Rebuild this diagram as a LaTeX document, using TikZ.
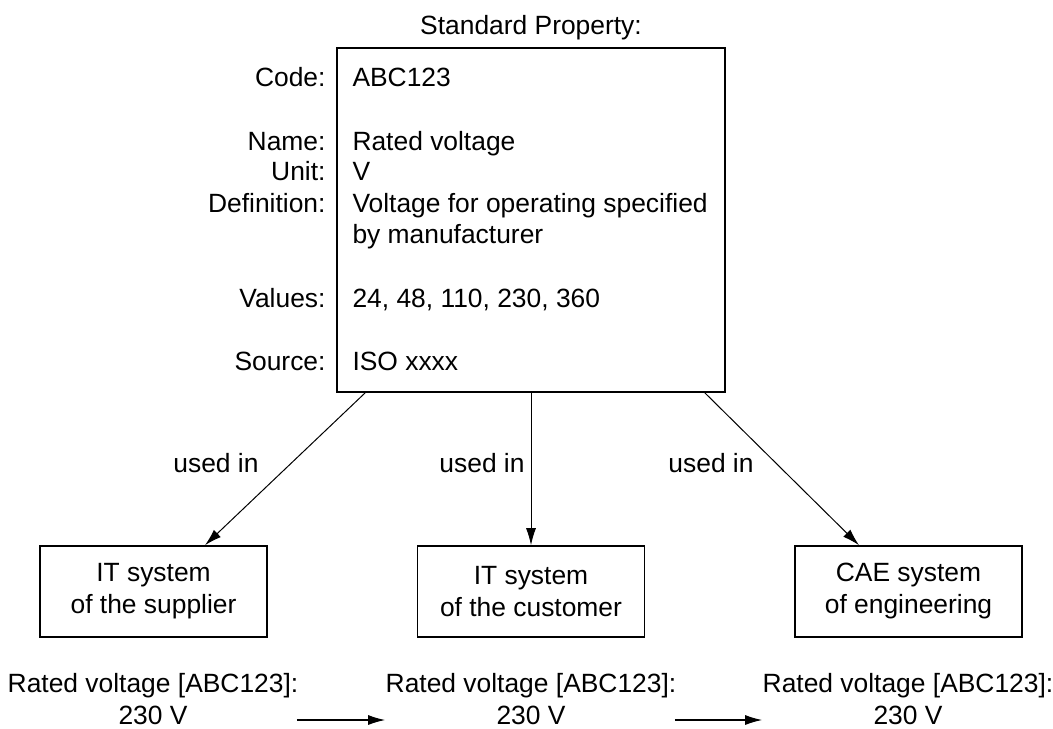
\documentclass[tikz,border=0pt]{standalone}
\usepackage{fontspec}
\setmainfont{Liberation Sans}
\usetikzlibrary{calc, positioning, arrows.meta}

\begin{document}
\begin{tikzpicture}[
    x=0.5pt, y=-0.5pt,
    >={Latex[length=8.5pt, width=5pt]},
    line width=0.5pt,
    font=\fontsize{13.2}{16}\selectfont,
    propbox/.style={draw, line width=0.8pt, minimum width=194pt, minimum height=172pt},
    sysbox/.style={draw, line width=0.8pt, minimum width=113.5pt, minimum height=45.5pt, align=center, inner sep=0pt},
    key/.style={anchor=base east, inner sep=0pt},
    val/.style={anchor=base west, inner sep=0pt},
    usage/.style={anchor=base, inner sep=0pt},
    rated/.style={align=center, inner sep=0pt}
]
    \useasboundingbox (0,0) rectangle (1053,728);

    % Standard property box
    \node[propbox] (prop) at (531,220) {};
    \node[above=3.5pt of prop, inner sep=0pt] (title) {Standard Property:};

    % Property rows
    \foreach \yb/\key/\val in {86/Code/ABC123, 150/Name/Rated voltage, 180/Unit/V,
        212/Definition/Voltage for operating specified,
        307/Values/{24, 48, 110, 230, 360}, 370/Source/ISO xxxx} {
        \node[key] (key-\key) at (326,\yb) {\key:};
        \node[val] (val-\key) at (352,\yb) {\val};
    }
    \node[val] (val-Definition2) at (352,243) {by manufacturer};

    % Systems using the property
    \node[sysbox] (supplier) at (153.5,591.5) {IT system\\of the supplier};
    \node[sysbox] (customer) at (531,591.5) {IT system\\of the customer};
    \node[sysbox] (engineer) at (908.5,591.5) {CAE system\\of engineering};

    % Usage links
    \draw[->] ($(prop.south west)+(29,0)$) -- ($(supplier.north)+(51.5,0)$);
    \draw[->] (prop.south) -- (customer.north);
    \draw[->] ($(prop.south east)+(-21,0)$) -- ($(engineer.north)+(-49.5,0)$);
    \node[usage] (use1) at (216,472) {used in};
    \node[usage] (use2) at (482,472) {used in};
    \node[usage] (use3) at (711,472) {used in};

    % Exchanged values
    \node[rated] (rated1) at (153,699) {Rated voltage [ABC123]:\\230 V};
    \node[rated] (rated2) at (531,699) {Rated voltage [ABC123]:\\230 V};
    \node[rated] (rated3) at (908,699) {Rated voltage [ABC123]:\\230 V};
    \draw[->, line width=0.65pt] ($(rated1.east)+(-2,21)$) -- ($(rated2.west)+(0,21)$);
    \draw[->, line width=0.65pt] ($(rated2.east)+(-2,21)$) -- ($(rated3.west)+(0,21)$);

\end{tikzpicture}
\end{document}
